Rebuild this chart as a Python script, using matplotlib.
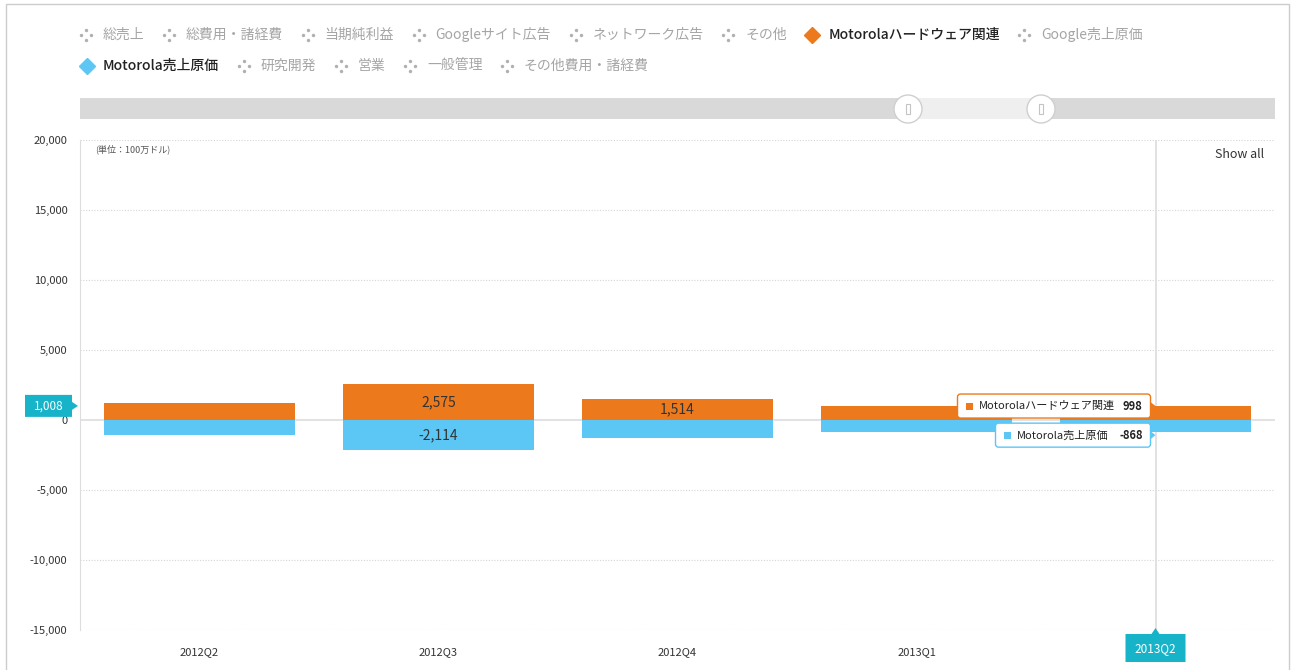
import matplotlib
matplotlib.use("Agg")
import matplotlib.pyplot as plt
from matplotlib.patches import Rectangle, Circle, Polygon, FancyBboxPatch

plt.rcParams['font.family'] = ['Noto Sans CJK JP', 'DejaVu Sans']

# data
quarters = ['2012Q2', '2012Q3', '2012Q4', '2013Q1', '2013Q2']
hw_revenue = [1250, 2575, 1514, 1018, 998]       # Motorolaハードウェア関連
hw_cost = [-1050, -2114, -1290, -835, -868]      # Motorola売上原価
yticks = [-15000, -10000, -5000, 0, 5000, 10000, 15000, 20000]
legend_names = ['総売上', '総費用・諸経費', '当期純利益', 'Googleサイト広告',
                'ネットワーク広告', 'その他', 'Motorolaハードウェア関連', 'Google売上原価',
                'Motorola売上原価', '研究開発', '営業', '一般管理', 'その他費用・諸経費']
hover_idx = 4
hover_y = 1008

ORANGE = '#ec7a1c'
BLUE = '#5cc6f4'
TEAL = '#17b3c9'
active = {'Motorolaハードウェア関連': ORANGE, 'Motorola売上原価': BLUE}

W, H = 1295, 670
fig = plt.figure(figsize=(W / 100, H / 100), dpi=100)
ax = fig.add_axes([80 / W, 1 - 630 / H, 1195 / W, 490 / H])

x = list(range(len(quarters)))
ax.bar(x, hw_revenue, 0.8, color=ORANGE, zorder=3)
ax.bar(x, hw_cost, 0.8, color=BLUE, zorder=3)

# labels on the bigger bars only
for xi, v in zip(x, hw_revenue):
    if abs(v) > 1400:
        ax.text(xi, v / 2, f'{v:,}', ha='center', va='center', fontsize=10, color='#333', zorder=4)
for xi, v in zip(x, hw_cost):
    if abs(v) > 1400:
        ax.text(xi, v / 2, f'{v:,}', ha='center', va='center', fontsize=10, color='#333', zorder=4)

ax.set_xlim(-0.5, len(quarters) - 0.5)
ax.set_ylim(-15000, 20000)
ax.set_yticks(yticks)
ax.set_yticklabels([f'{t:,}' for t in yticks], fontsize=8, color='#333')
ax.set_xticks(x)
# the hovered quarter is shown in the teal tag instead
ax.set_xticklabels([q if i != hover_idx else '' for i, q in enumerate(quarters)], fontsize=8, color='#333')
ax.tick_params(length=0)
ax.tick_params(axis='y', pad=9)
ax.tick_params(axis='x', pad=12)
for s in ['top', 'right', 'bottom']:
    ax.spines[s].set_visible(False)
ax.spines['left'].set_color('#dddddd')
for t in yticks:
    if t == 0:
        ax.axhline(0, color='#dddddd', lw=1.2, zorder=1)
    else:
        ax.axhline(t, color='#d5d5d5', lw=0.8, ls=(0, (1, 1.5)), zorder=1)
ax.axvline(hover_idx, color='#dddddd', lw=1.2, zorder=2)

# overlay in pixel coordinates
ov = fig.add_axes([0, 0, 1, 1])
ov.set_xlim(0, W)
ov.set_ylim(H, 0)
ov.axis('off')
ov.set_zorder(5)
ov.patch.set_visible(False)
renderer = fig.canvas.get_renderer()


def to_px(xd, yd):
    dx, dy = ax.transData.transform((xd, yd))
    return dx, H - dy


# frame
ov.add_patch(Rectangle((6, 4), 1283, 680, fc='none', ec='#cccccc', lw=1))

# legend
lx, ly = 86, 35
for i, name in enumerate(legend_names):
    if i == 8:
        lx, ly = 86, 66
    if name in active:
        ov.plot(lx + 1, ly, marker='D', ms=8, color=active[name], mec=active[name])
        col, wt = '#222222', 'medium'
    else:
        ov.scatter([lx, lx, lx - 5, lx + 5], [ly - 5, ly + 5, ly, ly], s=6, color='#b0b0b0', lw=0)
        col, wt = '#a5a5a5', 'normal'
    t = ov.text(lx + 17, ly, name, va='center', ha='left', fontsize=10, color=col, fontweight=wt)
    bb = t.get_window_extent(renderer)
    lx = bb.x1 + 24.5

# range slider
ov.add_patch(Rectangle((80, 98), 1195, 21, fc='#d9d9d9', ec='none'))
ov.add_patch(Rectangle((908, 98), 133, 21, fc='#efefef', ec='none'))
for cx in (908, 1041):
    ov.add_patch(Circle((cx, 109), 14, fc='white', ec='#cfcfcf', lw=1))
    ov.add_patch(Rectangle((cx - 2, 104), 4, 10, fc='white', ec='#c4c4c4', lw=0.8))

ov.text(95, 149, '(単位：100万ドル)', fontsize=6.5, color='#555', va='center')
ov.text(1240, 155, 'Show all', fontsize=9, color='#333', va='center', ha='center')

# y-axis hover tag
_, yc = to_px(0, hover_y)
ov.add_patch(Polygon([(25, yc - 11), (72, yc - 11), (72, yc - 4), (78, yc), (72, yc + 4),
                      (72, yc + 11), (25, yc + 11)], closed=True, fc=TEAL, ec='none'))
ov.text(48.5, yc, f'{hover_y:,}', color='white', fontsize=8.5, ha='center', va='center')

# x-axis hover tag
xc, _ = to_px(hover_idx, 0)
ov.add_patch(Polygon([(xc - 30, 634), (xc - 4, 634), (xc, 628), (xc + 4, 634), (xc + 30, 634),
                      (xc + 30, 662), (xc - 30, 662)], closed=True, fc=TEAL, ec='none'))
ov.text(xc, 649, quarters[hover_idx], color='white', fontsize=8.5, ha='center', va='center')

# series tooltips
tips = [('Motorolaハードウェア関連', hw_revenue[hover_idx], ORANGE, 193, 0),
        ('Motorola売上原価', hw_cost[hover_idx], BLUE, 155, 3)]
for name, v, col, w, dy in tips:
    _, ty = to_px(hover_idx, v)
    ty += dy
    right = xc - 5
    left = right - w
    ov.add_patch(FancyBboxPatch((left, ty - 12), w, 24, boxstyle='round,pad=0,rounding_size=3',
                                fc='white', ec=col, lw=1))
    ov.add_patch(Polygon([(right, ty - 4), (right + 5, ty), (right, ty + 4)], closed=True, fc=col, ec='none'))
    ov.add_patch(Rectangle((left + 8, ty - 3.5), 7, 7, fc=col, ec='none'))
    ov.text(left + 21, ty, name, fontsize=8, color='#222', va='center', ha='left')
    ov.text(right - 8, ty, f'{v:,}', fontsize=8, color='#222', va='center', ha='right', fontweight='bold')

fig.savefig('out.png', dpi=100)
